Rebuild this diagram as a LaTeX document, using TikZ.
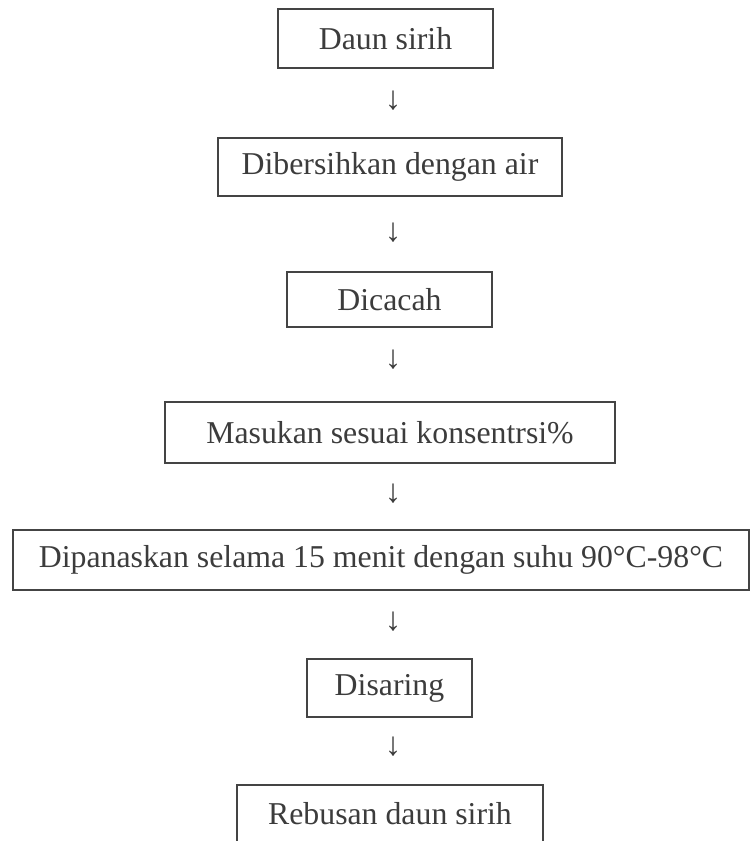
\documentclass[tikz,border=0pt]{standalone}
\usepackage{fontspec}
\setmainfont{Liberation Serif}
\usepackage{tikz}
\usetikzlibrary{positioning, calc}

\definecolor{inkgray}{HTML}{3C3C3C}
\definecolor{framegray}{HTML}{444444}

\begin{document}
\begin{tikzpicture}[
      x=0.5pt, y=-0.5pt,
      every node/.style={font=\fontsize{15.9}{19}\selectfont, text=inkgray},
      box/.style={rectangle, draw=framegray, line width=0.8pt, minimum height=29pt, inner sep=0pt, align=center},
      arrowsym/.style={inner sep=0pt, font=\fontsize{16.5}{19}\selectfont}
    ]
      \useasboundingbox (0,0) rectangle (754,841);

      % Row 0: Start
      \node[box, minimum width=107.5pt, minimum height=29.5pt] (daun) at (385.5,38.5) {Daun sirih};

      % Row 1: Washing
      \node[box, minimum width=172pt] (bersih) at (390,167) {Dibersihkan dengan air};

      % Row 2: Chopping
      \node[box, minimum width=102.5pt, minimum height=27.5pt] (cacah) at (389.5,299.5) {Dicacah};

      % Row 3: Concentration
      \node[box, minimum width=225pt, minimum height=30.5pt] (masuk) at (390,432.5) {Masukan sesuai konsentrsi\%};

      % Row 4: Heating
      \node[box, minimum width=368pt, minimum height=30pt] (panas) at (381,560) {Dipanaskan selama 15 menit dengan suhu 90°C-98°C};

      % Row 5: Filtering
      \node[box, minimum width=82.5pt] (saring) at (389.5,688) {Disaring};

      % Row 6: Result
      \node[box, minimum width=153pt] (rebus) at (390,814) {Rebusan daun sirih};

      % === ARROWS ===
      \node[arrowsym] (a1) at (393,101) {↓};
      \node[arrowsym] (a2) at (393,233) {↓};
      \node[arrowsym] (a3) at (393,360) {↓};
      \node[arrowsym] (a4) at (393,494) {↓};
      \node[arrowsym] (a5) at (393,622) {↓};
      \node[arrowsym] (a6) at (393,747) {↓};
    \end{tikzpicture}
\end{document}
